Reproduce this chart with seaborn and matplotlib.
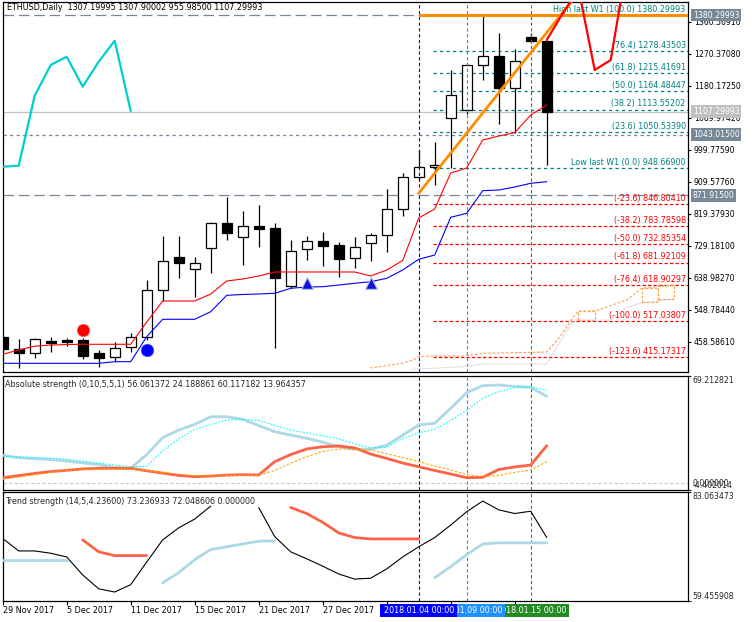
import numpy as np
import matplotlib
matplotlib.use("Agg")
import matplotlib.pyplot as plt
from matplotlib.patches import Rectangle
from matplotlib.transforms import blended_transform_factory as blend
import seaborn as sns

# ---------------- data ----------------
header_text = "ETHUSD,Daily  1307.19995 1307.90002 955.98500 1107.29993"
abs_title = "Absolute strength (0,10,5,5,1) 56.061372 24.188861 60.117182 13.964357"
trend_title = "Trend strength (14,5,4.23600) 73.236933 72.048606 0.000000"

bars = list(range(35))
opens = [472.6, 437.0, 427.4, 460.5, 463.3, 463.3, 426.6, 416.1, 442.7, 470.9,
         603.5, 697.5, 664.5, 722.0, 792.6, 754.8, 785.0, 778.5, 616.5, 720.9,
         742.6, 731.3, 693.8, 736.1, 758.7, 832.1, 922.4, 952.3, 1088.8, 1112.3,
         1239.2, 1264.6, 1175.2, 1317.4, 1307.19995]
highs = [475.0, 465.2, 468.0, 472.6, 469.8, 468.0, 435.0, 458.5, 483.9, 632.6,
         756.7, 756.7, 696.6, 795.0, 865.9, 827.3, 844.2, 793.4, 745.4, 756.7,
         767.2, 738.9, 753.0, 764.3, 888.5, 934.5, 999.4, 1022.8, 1225.1, 1245.0,
         1380.3, 1328.7, 1283.5, 1330.0, 1307.90002]
lows = [430.0, 385.1, 413.3, 430.3, 447.2, 409.6, 387.9, 400.4, 428.6, 462.0,
        573.3, 639.1, 585.4, 653.2, 745.4, 674.9, 724.8, 439.9, 609.2, 689.0,
        672.1, 641.9, 665.4, 686.2, 712.4, 814.1, 915.0, 900.6, 949.4, 1100.0,
        1196.9, 1071.9, 1046.5, 1300.0, 955.985]
closes = [437.0, 427.4, 465.2, 455.7, 458.5, 419.0, 413.3, 439.9, 470.9, 604.4,
          686.2, 681.4, 680.5, 792.6, 764.3, 784.1, 777.3, 639.1, 714.4, 742.6,
          729.4, 691.8, 724.8, 758.7, 832.1, 922.4, 950.6, 958.0, 1154.6, 1239.2,
          1264.6, 1175.2, 1250.5, 1307.8, 1107.29993]

red_stop = [422.9, 435.1, 446.0, 449.0, 450.5, 451.2, 451.2, 451.2, 451.2, 514.1,
            573.3, 573.3, 573.3, 593.1, 629.8, 635.4, 643.9, 655.2, 655.2, 655.2,
            655.2, 655.2, 655.2, 643.9, 660.8, 687.6, 807.5, 832.9, 934.5, 948.6,
            1027.6, 1038.9, 1048.2, 1098.1, 1126.4]
blue_stop = [397.5, 397.5, 397.5, 397.5, 397.5, 397.5, 397.5, 402.1, 402.1, 472.6,
             521.7, 521.7, 521.7, 543.1, 589.4, 591.7, 593.1, 595.1, 609.2, 612.8,
             613.7, 618.5, 623.3, 627.8, 637.4, 660.8, 691.0, 703.1, 809.5, 820.8,
             884.6, 886.5, 895.0, 905.4, 909.9]

cyan_bars = [0, 1, 2, 3, 4, 5, 6, 7, 8]
cyan_vals = [952.3, 955.1, 1152.6, 1239.2, 1262.7, 1178.0, 1248.6, 1307.8, 1109.4]

trend_bars = [26, 36]
trend_vals = [877.2, 1444.0]
proj_bars = [34, 35, 36, 37, 38, 39]
proj_vals = [1309.8, 1385.0, 1452.0, 1225.1, 1253.3, 1520.0]

orange_path_x = [22.96, 24.94, 25.66, 25.98, 26.91, 28.89, 30.04, 34.0, 34.83, 35.66,
                 35.98, 37.02, 39.0, 39.94, 41.98]
orange_path_y = [384.3, 397.5, 406.9, 416.2, 418.2, 418.2, 425.8, 429.4, 472.6, 529.0,
                 545.1, 545.1, 576.2, 609.2, 618.5]
pink_path_x = [25.56, 28.79, 30.04, 34.0, 34.41, 35.66, 37.96, 39.0, 39.83, 41.96]
pink_path_y = [380.6, 388.0, 395.6, 395.6, 425.8, 519.7, 519.7, 554.4, 566.9, 579.0]
box_x0 = [35.98, 39.94, 40.98]
box_x1 = [37.02, 40.98, 41.98]
box_lo = [519.7, 569.7, 579.0]
box_hi = [545.1, 609.2, 618.5]

sell_dot = (5, 491.5)
buy_dot = (9, 435.1)
arrow_bars = [19, 23]
arrow_vals = [623.3, 625.0]

high_w1 = 1380.29993
low_w1 = 948.66900
fib_up_tags = ["(76.4)", "(61.8)", "(50.0)", "(38.2)", "(23.6)"]
fib_up_vals = [1278.43503, 1215.41691, 1164.48447, 1113.55202, 1050.53390]
fib_dn_tags = ["(-23.6)", "(-38.2)", "(-50.0)", "(-61.8)", "(-76.4)", "(-100.0)", "(-123.6)"]
fib_dn_vals = [846.80410, 783.78598, 732.85354, 681.92109, 618.90297, 517.03807, 415.17317]
fib_start = 26.9

price_now = 1107.29993
line_1043 = 1043.015
line_871 = 871.915

price_ticks = [1360.56910, 1270.37080, 1180.17250, 1089.97420, 999.77590, 909.57760,
               819.37930, 729.18100, 638.98270, 548.78440, 458.58610]

abs_lightblue = [18.0, 16.4, 15.8, 15.3, 14.3, 13.1, 12.0, 10.2, 9.6, 18.5,
                 29.4, 34.3, 38.0, 42.9, 42.9, 41.3, 37.2, 33.2, 31.1, 29.0,
                 26.5, 23.6, 21.9, 22.0, 24.5, 31.0, 37.6, 38.7, 48.4, 58.5,
                 63.0, 63.4, 62.5, 61.9, 56.1]
abs_aqua = [17.5, 17.0, 16.6, 16.1, 15.6, 14.2, 13.0, 11.8, 10.6, 11.0,
            21.0, 28.7, 34.7, 37.8, 40.8, 41.1, 40.5, 37.3, 34.2, 32.4,
            30.6, 28.7, 25.3, 22.8, 23.1, 28.8, 32.5, 34.9, 40.5, 47.0,
            54.9, 59.1, 61.6, 62.3, 60.1]
abs_tomato = [3.5, 4.9, 6.3, 7.5, 8.3, 9.2, 9.6, 9.6, 9.6, 8.0,
              6.5, 5.0, 4.2, 4.6, 5.2, 5.5, 5.3, 13.9, 18.5, 22.1,
              23.5, 24.0, 22.8, 18.8, 16.0, 13.0, 10.6, 8.2, 5.9, 3.5,
              3.8, 8.8, 10.5, 11.7, 24.2]
abs_orange = [2.5, 4.0, 5.5, 7.0, 8.2, 8.8, 9.0, 9.0, 9.0, 8.2,
              7.0, 5.8, 4.8, 4.7, 4.9, 5.1, 5.3, 8.2, 13.0, 17.1,
              20.5, 22.1, 21.8, 21.3, 19.0, 16.5, 14.0, 11.0, 8.5, 5.5,
              4.3, 5.0, 7.0, 8.5, 14.0]
abs_range = (-4.402014, 69.212821)

nan = np.nan
trend_black = [73.0, 70.3, 70.3, 69.8, 69.0, 65.1, 62.1, 61.4, 63.0, 67.9,
               72.7, 75.3, 77.2, 80.0, nan, nan, 79.7, 73.4, 70.1, 68.6,
               67.0, 65.3, 64.2, 64.4, 66.4, 69.0, 71.2, 73.2, 75.9, 78.8,
               81.1, 79.2, 78.4, 78.9, 73.2]
trend_tomato = [nan, nan, nan, nan, nan, 72.7, 70.1, 69.3, 69.3, 69.3,
                nan, nan, nan, nan, nan, nan, nan, nan, 79.7, 78.4,
                76.5, 74.2, 73.2, 72.9, 72.9, 72.9, 72.9, nan, nan, nan,
                nan, nan, nan, nan, nan]
trend_lightblue = [68.4, 68.4, 68.4, 68.4, 68.4, nan, nan, nan, nan, nan,
                   63.4, 65.6, 68.4, 70.6, 71.2, 71.8, 72.4, 72.5, nan, nan,
                   nan, nan, nan, nan, nan, nan, nan, 64.5, 66.9, 69.5,
                   71.8, 72.05, 72.05, 72.05, 72.05]
trend_range = (59.455908, 83.063473)

date_ticks = [0, 4, 8, 12, 16, 20, 24, 28, 32]
date_labels = ["29 Nov 2017", "5 Dec 2017", "11 Dec 2017", "15 Dec 2017",
               "21 Dec 2017", "27 Dec 2017", "", "", ""]
vline_bars = [26, 29, 33]
vline_colors = ["#0000ff", "#1e90ff", "#228b22"]
vline_labels = ["2018.01.04 00:00", "2018.01.09 00:00", "2018.01.15 00:00"]

# ---------------- style ----------------
sns.set_theme(style="white")
plt.rcParams['font.family'] = ['DejaVu Sans']
FS = 5.8      # general text
FSN = 5.6     # axis numbers
SLATE = "#778899"
TEAL = "#008080"

W, H = 755, 622
fig = plt.figure(figsize=(W / 100, H / 100), dpi=100)
fig.patch.set_facecolor("white")


def rect(x0, y0, x1, y1):
    return [x0 / W, 1 - y1 / H, (x1 - x0) / W, (y1 - y0) / H]


ax1 = fig.add_axes(rect(2.5, 2, 688, 372))
ax2 = fig.add_axes(rect(2.5, 376, 688, 490))
ax3 = fig.add_axes(rect(2.5, 492, 688, 601))
XL = (-0.0125, 42.83)


def segs(ax, x, y, color, lw, dashes=None, z=3):
    x = np.asarray(x, float)
    y = np.asarray(y, float)
    idx = np.where(~np.isnan(y))[0]
    groups = np.split(idx, np.where(np.diff(idx) > 1)[0] + 1)
    for g in groups:
        if len(g) < 2:
            continue
        sns.lineplot(x=x[g], y=y[g], ax=ax, sort=False, estimator=None,
                     color=color, linewidth=lw, zorder=z)
        if dashes is not None:
            ax.lines[-1].set_dashes(dashes)


for ax in (ax1, ax2, ax3):
    ax.set_xlim(*XL)
    ax.set_facecolor("white")
    for s in ax.spines.values():
        s.set_color("black")
        s.set_linewidth(0.9)
    ax.set_xlabel("")
    ax.set_ylabel("")
    for b, c in zip(vline_bars, vline_colors):
        ax.axvline(b, color=c, lw=0.8, dashes=(3, 2.2), zorder=2.8)

# ---------------- main panel ----------------
ax1.set_ylim(373.0, 1417.0)
o = np.array(opens); c = np.array(closes)
up = c >= o
bottom = np.minimum(o, c)
height = np.maximum(np.abs(c - o), 4.5)
ax1.vlines(bars, lows, highs, color="black", lw=0.9, zorder=2)
ax1.bar(bars, height, bottom=bottom, width=0.62,
        color=["white" if u else "black" for u in up],
        edgecolor="black", linewidth=0.9, zorder=2.5)

# horizontal reference lines
ax1.axhline(price_now, color="#c0c0c0", lw=0.9, zorder=1.5)
ax1.axhline(line_1043, color=SLATE, lw=0.9, dashes=(2.6, 2.6), zorder=1.5)
ax1.axhline(line_871, color=SLATE, lw=0.9, dashes=(8.5, 3.8), zorder=1.5)
ax1.axhline(high_w1, color=SLATE, lw=0.9, dashes=(8.5, 3.8), zorder=1.5)

# fibo levels
for v in fib_up_vals + [low_w1]:
    ax1.hlines(v, fib_start, XL[1], color=TEAL, lw=0.9, linestyles=(0, (2.6, 2.6)), zorder=1.6)
for v in fib_dn_vals:
    ax1.hlines(v, fib_start, XL[1], color="red", lw=0.9, linestyles=(0, (2.6, 1.8)), zorder=1.6)
ax1.hlines(high_w1, 26, XL[1], color="#ff8c00", lw=2.2, zorder=3.2)

bt = blend(ax1.transAxes, ax1.transData)
TX = 0.9967
ax1.annotate(f"High last W1 (100.0) {high_w1:.5f}", xy=(TX, high_w1), xycoords=bt,
             xytext=(0, 2.4), textcoords="offset points", ha="right", va="baseline",
             fontsize=FS, color=TEAL, zorder=2.6)
ax1.annotate(f"Low last W1 (0.0) {low_w1:.5f}", xy=(TX, low_w1), xycoords=bt,
             xytext=(0, 2.4), textcoords="offset points", ha="right", va="baseline",
             fontsize=FS, color=TEAL, zorder=2.6)
for t, v in zip(fib_up_tags, fib_up_vals):
    ax1.annotate(f"{t} {v:.5f}", xy=(TX, v), xycoords=bt, xytext=(0, 2.4),
                 textcoords="offset points", ha="right", va="baseline",
                 fontsize=FS, color=TEAL, zorder=2.6)
for t, v in zip(fib_dn_tags, fib_dn_vals):
    ax1.annotate(f"{t} {v:.5f}", xy=(TX, v), xycoords=bt, xytext=(0, 2.4),
                 textcoords="offset points", ha="right", va="baseline",
                 fontsize=FS, color="red", zorder=2.6)

# projection paths
segs(ax1, orange_path_x, orange_path_y, "#ffa04a", 0.8, dashes=(2.4, 1.6), z=1.7)
segs(ax1, pink_path_x, pink_path_y, "#dcb8dc", 0.8, dashes=(1.2, 1.2), z=1.7)
for x0, x1, lo, hi in zip(box_x0, box_x1, box_lo, box_hi):
    ax1.add_patch(Rectangle((x0, lo), x1 - x0, hi - lo, fill=False, ec="#ffa04a",
                            lw=0.8, ls=(0, (2.4, 1.6)), zorder=1.7))

# indicator lines
segs(ax1, bars, red_stop, "red", 0.8, z=3)
segs(ax1, bars, blue_stop, "blue", 0.8, z=3)
segs(ax1, cyan_bars, cyan_vals, "#00ced1", 1.6, z=3)
segs(ax1, trend_bars, trend_vals, "#ff8c00", 2.0, z=3.3)
segs(ax1, proj_bars, proj_vals, "red", 1.6, z=3.4)

sns.scatterplot(x=[sell_dot[0]], y=[sell_dot[1]], ax=ax1, color="red", s=80,
                edgecolor="#ff6060", linewidth=0.5, zorder=4)
sns.scatterplot(x=[buy_dot[0]], y=[buy_dot[1]], ax=ax1, color="blue", s=80,
                edgecolor="#4040ff", linewidth=0.5, zorder=4)
sns.scatterplot(x=arrow_bars, y=arrow_vals, ax=ax1, color="#1010d0", marker="^", s=70,
                edgecolor="#a0b8ff", linewidth=0.8, zorder=4)

ax1.set_xticks([])
ax1.yaxis.tick_right()
ax1.set_yticks(price_ticks)
ax1.set_yticklabels([f"{v:.5f}" for v in price_ticks])
ax1.tick_params(axis="y", which="both", right=True, left=False, direction="out",
                length=2.3, width=0.8, pad=1.8, labelsize=FSN, colors="black")

for v, fc in [(high_w1, SLATE), (price_now, "#c0c0c0"), (line_1043, SLATE), (line_871, SLATE)]:
    ax1.text(1.0068, v, f"{v:.5f}", transform=bt, ha="left", va="center", fontsize=FSN,
             color="white", bbox=dict(boxstyle="square,pad=0.25", fc=fc, ec="none"),
             zorder=10, clip_on=False)

fig.text(7 / W, 1 - 7.5 / H, header_text, fontsize=FS, ha="left", va="center", color="black")

# ---------------- panel 2 ----------------
ax2.set_ylim(*abs_range)
ax2.axhline(0.0, color="#c8c8c8", lw=0.8, dashes=(3, 2))
segs(ax2, bars, abs_lightblue, "#add8e6", 2.0)
segs(ax2, bars, abs_aqua, "#00ffff", 0.8, dashes=(1.5, 1.5))
segs(ax2, bars, abs_tomato, "#ff6347", 2.0)
segs(ax2, bars, abs_orange, "#ffa500", 0.8, dashes=(2.2, 1.6))
ax2.set_xticks([])
ax2.yaxis.tick_right()
ax2.set_yticks([abs_range[1], abs_range[0]])
ax2.set_yticklabels(["", ""])
ax2.tick_params(axis="y", right=True, left=False, direction="out", length=2.3, width=0.8)
bt2 = blend(ax2.transAxes, ax2.transData)
ax2.text(1.0068, abs_range[1], f"{abs_range[1]:.6f}", transform=bt2, ha="left", va="top",
         fontsize=FSN, clip_on=False)
ax2.text(1.0068, 0.0, "0.000000", transform=bt2, ha="left", va="center",
         fontsize=FSN, clip_on=False)
ax2.text(1.0068, abs_range[0], f"{abs_range[0]:.6f}", transform=bt2, ha="left", va="bottom",
         fontsize=FSN, clip_on=False)
fig.text(5 / W, 1 - 384.3 / H, abs_title, fontsize=FS, ha="left", va="center")

# ---------------- panel 3 ----------------
ax3.set_ylim(*trend_range)
segs(ax3, bars, trend_black, "black", 0.8)
segs(ax3, bars, trend_tomato, "#ff6347", 2.0)
segs(ax3, bars, trend_lightblue, "#add8e6", 2.0)
ax3.yaxis.tick_right()
ax3.set_yticks([trend_range[1], trend_range[0]])
ax3.set_yticklabels(["", ""])
ax3.tick_params(axis="y", right=True, left=False, direction="out", length=2.3, width=0.8)
bt3 = blend(ax3.transAxes, ax3.transData)
ax3.text(1.0068, trend_range[1], f"{trend_range[1]:.6f}", transform=bt3, ha="left", va="top",
         fontsize=FSN, clip_on=False)
ax3.text(1.0068, trend_range[0], f"{trend_range[0]:.6f}", transform=bt3, ha="left", va="bottom",
         fontsize=FSN, clip_on=False)
fig.text(5 / W, 1 - 501.7 / H, trend_title, fontsize=FS, ha="left", va="center")

ax3.set_xticks(date_ticks)
ax3.set_xticklabels(date_labels)
ax3.tick_params(axis="x", bottom=True, direction="out", length=3, width=0.8, pad=0.8,
                labelsize=FS, colors="black")
for lbl in ax3.get_xticklabels():
    lbl.set_ha("left")

bx = blend(ax3.transData, fig.transFigure)
half = 2.4
y0 = 1 - 617 / H
y1 = 1 - 604.3 / H
for k, (b, col, lab) in enumerate(reversed(list(zip(vline_bars, vline_colors, vline_labels)))):
    ax3.add_patch(Rectangle((b - half, y0), 2 * half, y1 - y0, transform=bx, fc=col,
                            ec="none", clip_on=False, zorder=20 + 2 * k))
    ax3.text(b, (y0 + y1) / 2, lab, transform=bx, ha="center", va="center", color="white",
             fontsize=FS, clip_on=False, zorder=21 + 2 * k)

fig.savefig("out.png", dpi=100, facecolor="white")
